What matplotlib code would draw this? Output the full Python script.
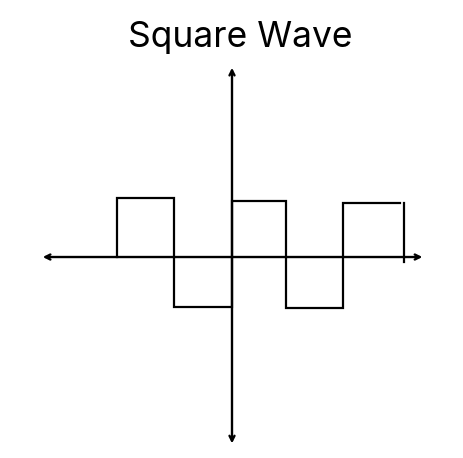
import matplotlib.pyplot as plt

# square wave (1 unit = one half period)
edges = [-2.02, -1.02, 0.0, 0.95, 1.95, 2.95]
levels = [1.035, -0.877, 0.98, -0.895, 0.947]
tail_x = 3.02
tail_y = [0.947, -0.09]

fig = plt.figure(figsize=(4.64, 4.58), dpi=100)
ax = fig.add_axes([0, 0, 1, 1])
ax.set_xlim(-4.07, 4.07)
ax.set_ylim(-3.526, 4.509)
ax.axis("off")

# axes with arrow heads
arrow = dict(arrowstyle="<->", color="black", lw=1.7,
             mutation_scale=9, shrinkA=0, shrinkB=0)
ax.annotate("", xy=(-3.32, 0), xytext=(3.34, 0), arrowprops=arrow)
ax.annotate("", xy=(0, 3.32), xytext=(0, -3.27), arrowprops=arrow)

# the wave as a polyline
xs, ys = [edges[0]], [0]
for i, lv in enumerate(levels):
    xs += [edges[i], edges[i + 1]]
    ys += [lv, lv]
    if i < len(levels) - 1:
        xs.append(edges[i + 1])
        ys.append(levels[i + 1])
ax.plot(xs, ys, color="black", lw=1.6, solid_joinstyle="miter")
ax.plot([tail_x, tail_x], tail_y, color="black", lw=1.6)

fig.text(0.517, 0.918, "Square Wave", ha="center", va="center",
         fontsize=25.5, family="Inter")

fig.savefig("out.png", dpi=100, facecolor="white")
